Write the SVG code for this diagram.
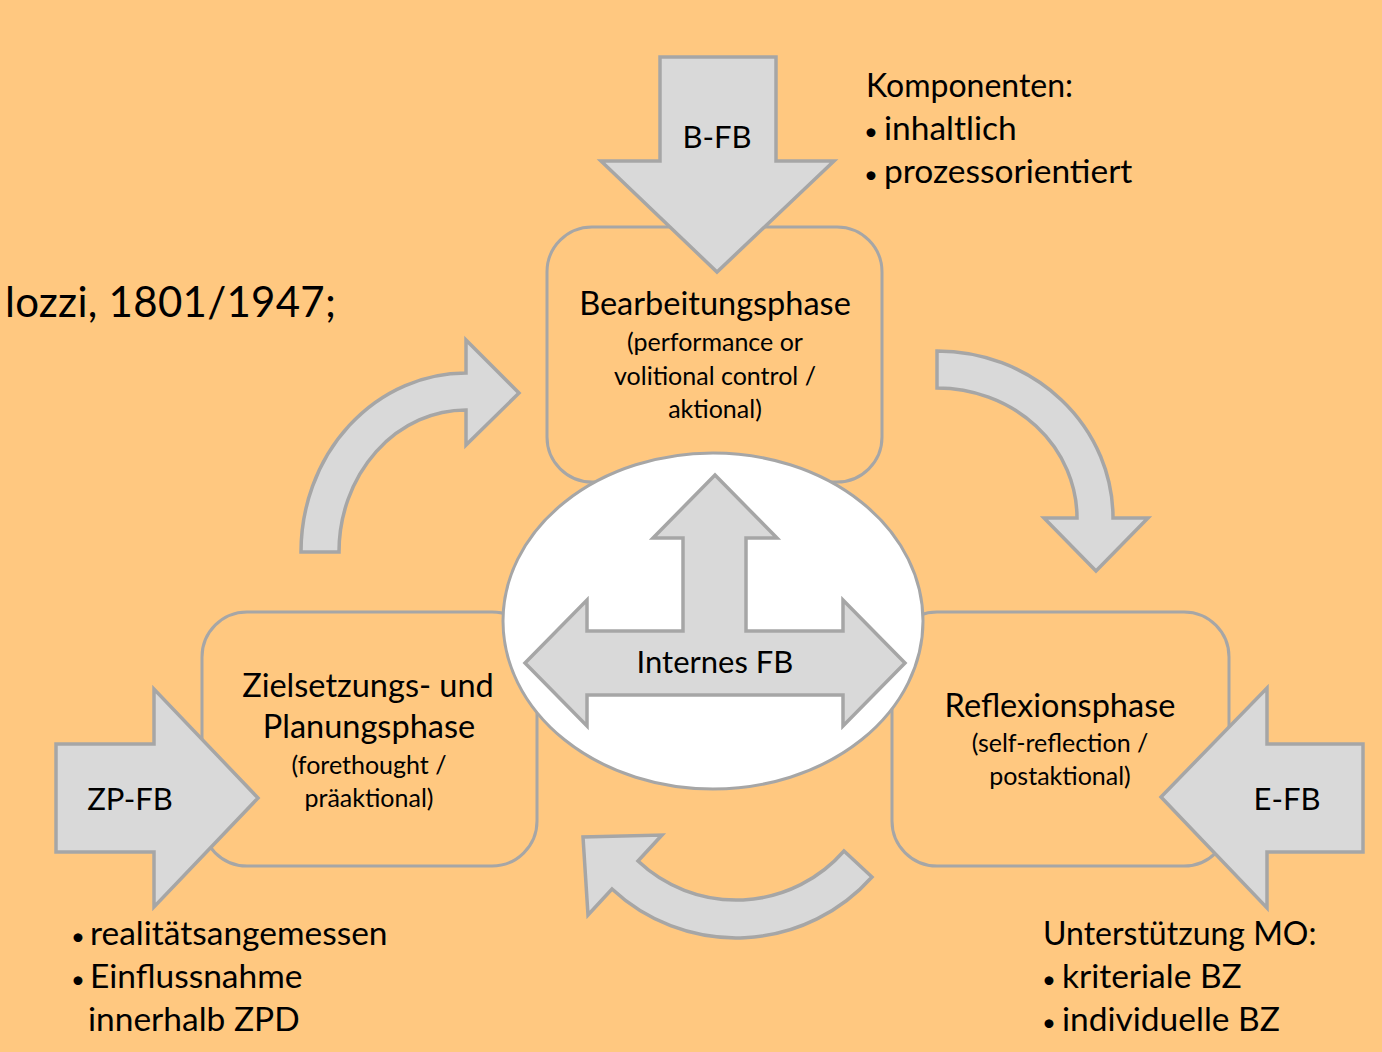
<svg xmlns="http://www.w3.org/2000/svg" width="1382" height="1052" viewBox="0 0 1382 1052">
<defs>
<style>
.bg{fill:#FFC880}
.box{fill:#FFC880;stroke:#A6A6A6;stroke-width:3}
.arr{fill:#D9D9D9;stroke:#A6A6A6;stroke-width:3.5;stroke-linejoin:miter}
.ell{fill:#FFFFFF;stroke:#A6A6A6;stroke-width:3}
text{font-family:Lato,"Liberation Sans",sans-serif;fill:#000}
.t{font-size:32.5px;text-anchor:middle}
.s{font-size:25px;text-anchor:middle}
.fb{font-size:31px;text-anchor:middle}
.l{font-size:32px}
.li{font-size:33.5px}
.b{font-size:24px}
</style>
</defs>
<rect class="bg" x="0" y="0" width="1382" height="1052"/>
<text x="5" y="317" textLength="331" lengthAdjust="spacing" style="font-size:42px">lozzi, 1801/1947;</text>

<g id="bearbeitung">
<rect class="box" x="547" y="227" width="335" height="255" rx="45" ry="45"/>
<text class="t" x="715" y="315">Bearbeitungsphase</text>
<text class="s" x="715" y="351">(performance or</text>
<text class="s" x="715" y="385">volitional control /</text>
<text class="s" x="715" y="418">aktional)</text>
</g>
<g id="zielsetzung">
<rect class="box" x="202" y="612" width="335" height="254" rx="45" ry="45"/>
<text class="t" x="368" y="697">Zielsetzungs- und</text>
<text class="t" x="369" y="738">Planungsphase</text>
<text class="s" x="369" y="774">(forethought /</text>
<text class="s" x="369" y="807">präaktional)</text>
</g>
<g id="reflexion">
<rect class="box" x="892" y="612" width="337" height="254" rx="45" ry="45"/>
<text class="t" x="1060" y="717">Reflexionsphase</text>
<text class="s" x="1060" y="752">(self-reflection /</text>
<text class="s" x="1060" y="785">postaktional)</text>
</g>
<g id="internes-fb">
<ellipse class="ell" cx="713" cy="621" rx="210" ry="168"/>
<path class="arr" d="M715,475 L777,538 L746,538 L746,631 L843,631 L843,600 L905,663 L843,726 L843,695 L587,695 L587,726 L525,663 L587,600 L587,631 L683,631 L683,538 L653,538 Z"/>
<text class="fb" x="715" y="673">Internes FB</text>
</g>
<g id="b-fb">
<path class="arr" d="M660,57 L776,57 L776,161 L834,161 L717,272 L601,161 L660,161 Z"/>
<text class="fb" x="717" y="148">B-FB</text>
</g>
<g id="zp-fb">
<path class="arr" d="M56,744 L154,744 L154,689 L258,798 L154,907 L154,852 L56,852 Z"/>
<text class="fb" x="130" y="810">ZP-FB</text>
</g>
<g id="e-fb">
<path class="arr" d="M1363,744 L1267,744 L1267,688 L1161,797 L1267,908 L1267,852 L1363,852 Z"/>
<text class="fb" x="1287" y="810">E-FB</text>
</g>
<g id="connectors">
<path class="arr" d="M301,552 A165,179 0 0 1 466,373 L466,340 L519,393 L466,445 L466,410 A127,142 0 0 0 339,552 Z"/>
<path class="arr" d="M937,351 A176,167 0 0 1 1113,518 L1148,518 L1096,571 L1044,518 L1077,518 A140,130 0 0 0 937,388 Z"/>
<path class="arr" d="M872,877 A182,182 0 0 1 612,889 L588,915 L583,837 L662,835 L638,861 A143,143 0 0 0 844,851 Z"/>
</g>
<g id="komponenten">
<text class="l" x="866" y="97">Komponenten:</text>
<text class="li" y="140"><tspan class="b" x="864">•</tspan><tspan x="884">inhaltlich</tspan></text>
<text class="li" y="183"><tspan class="b" x="864">•</tspan><tspan x="884">prozessorientiert</tspan></text>
</g>
<g id="zp-notes">
<text class="li" y="945"><tspan class="b" x="71">•</tspan><tspan x="90">realitätsangemessen</tspan></text>
<text class="li" y="988"><tspan class="b" x="71">•</tspan><tspan x="90">Einflussnahme</tspan></text>
<text class="li" x="88" y="1031">innerhalb ZPD</text>
</g>
<g id="e-notes">
<text class="l" x="1043" y="945">Unterstützung MO:</text>
<text class="li" y="988"><tspan class="b" x="1042">•</tspan><tspan x="1062">kriteriale BZ</tspan></text>
<text class="li" y="1031"><tspan class="b" x="1042">•</tspan><tspan x="1062">individuelle BZ</tspan></text>
</g>
</svg>
